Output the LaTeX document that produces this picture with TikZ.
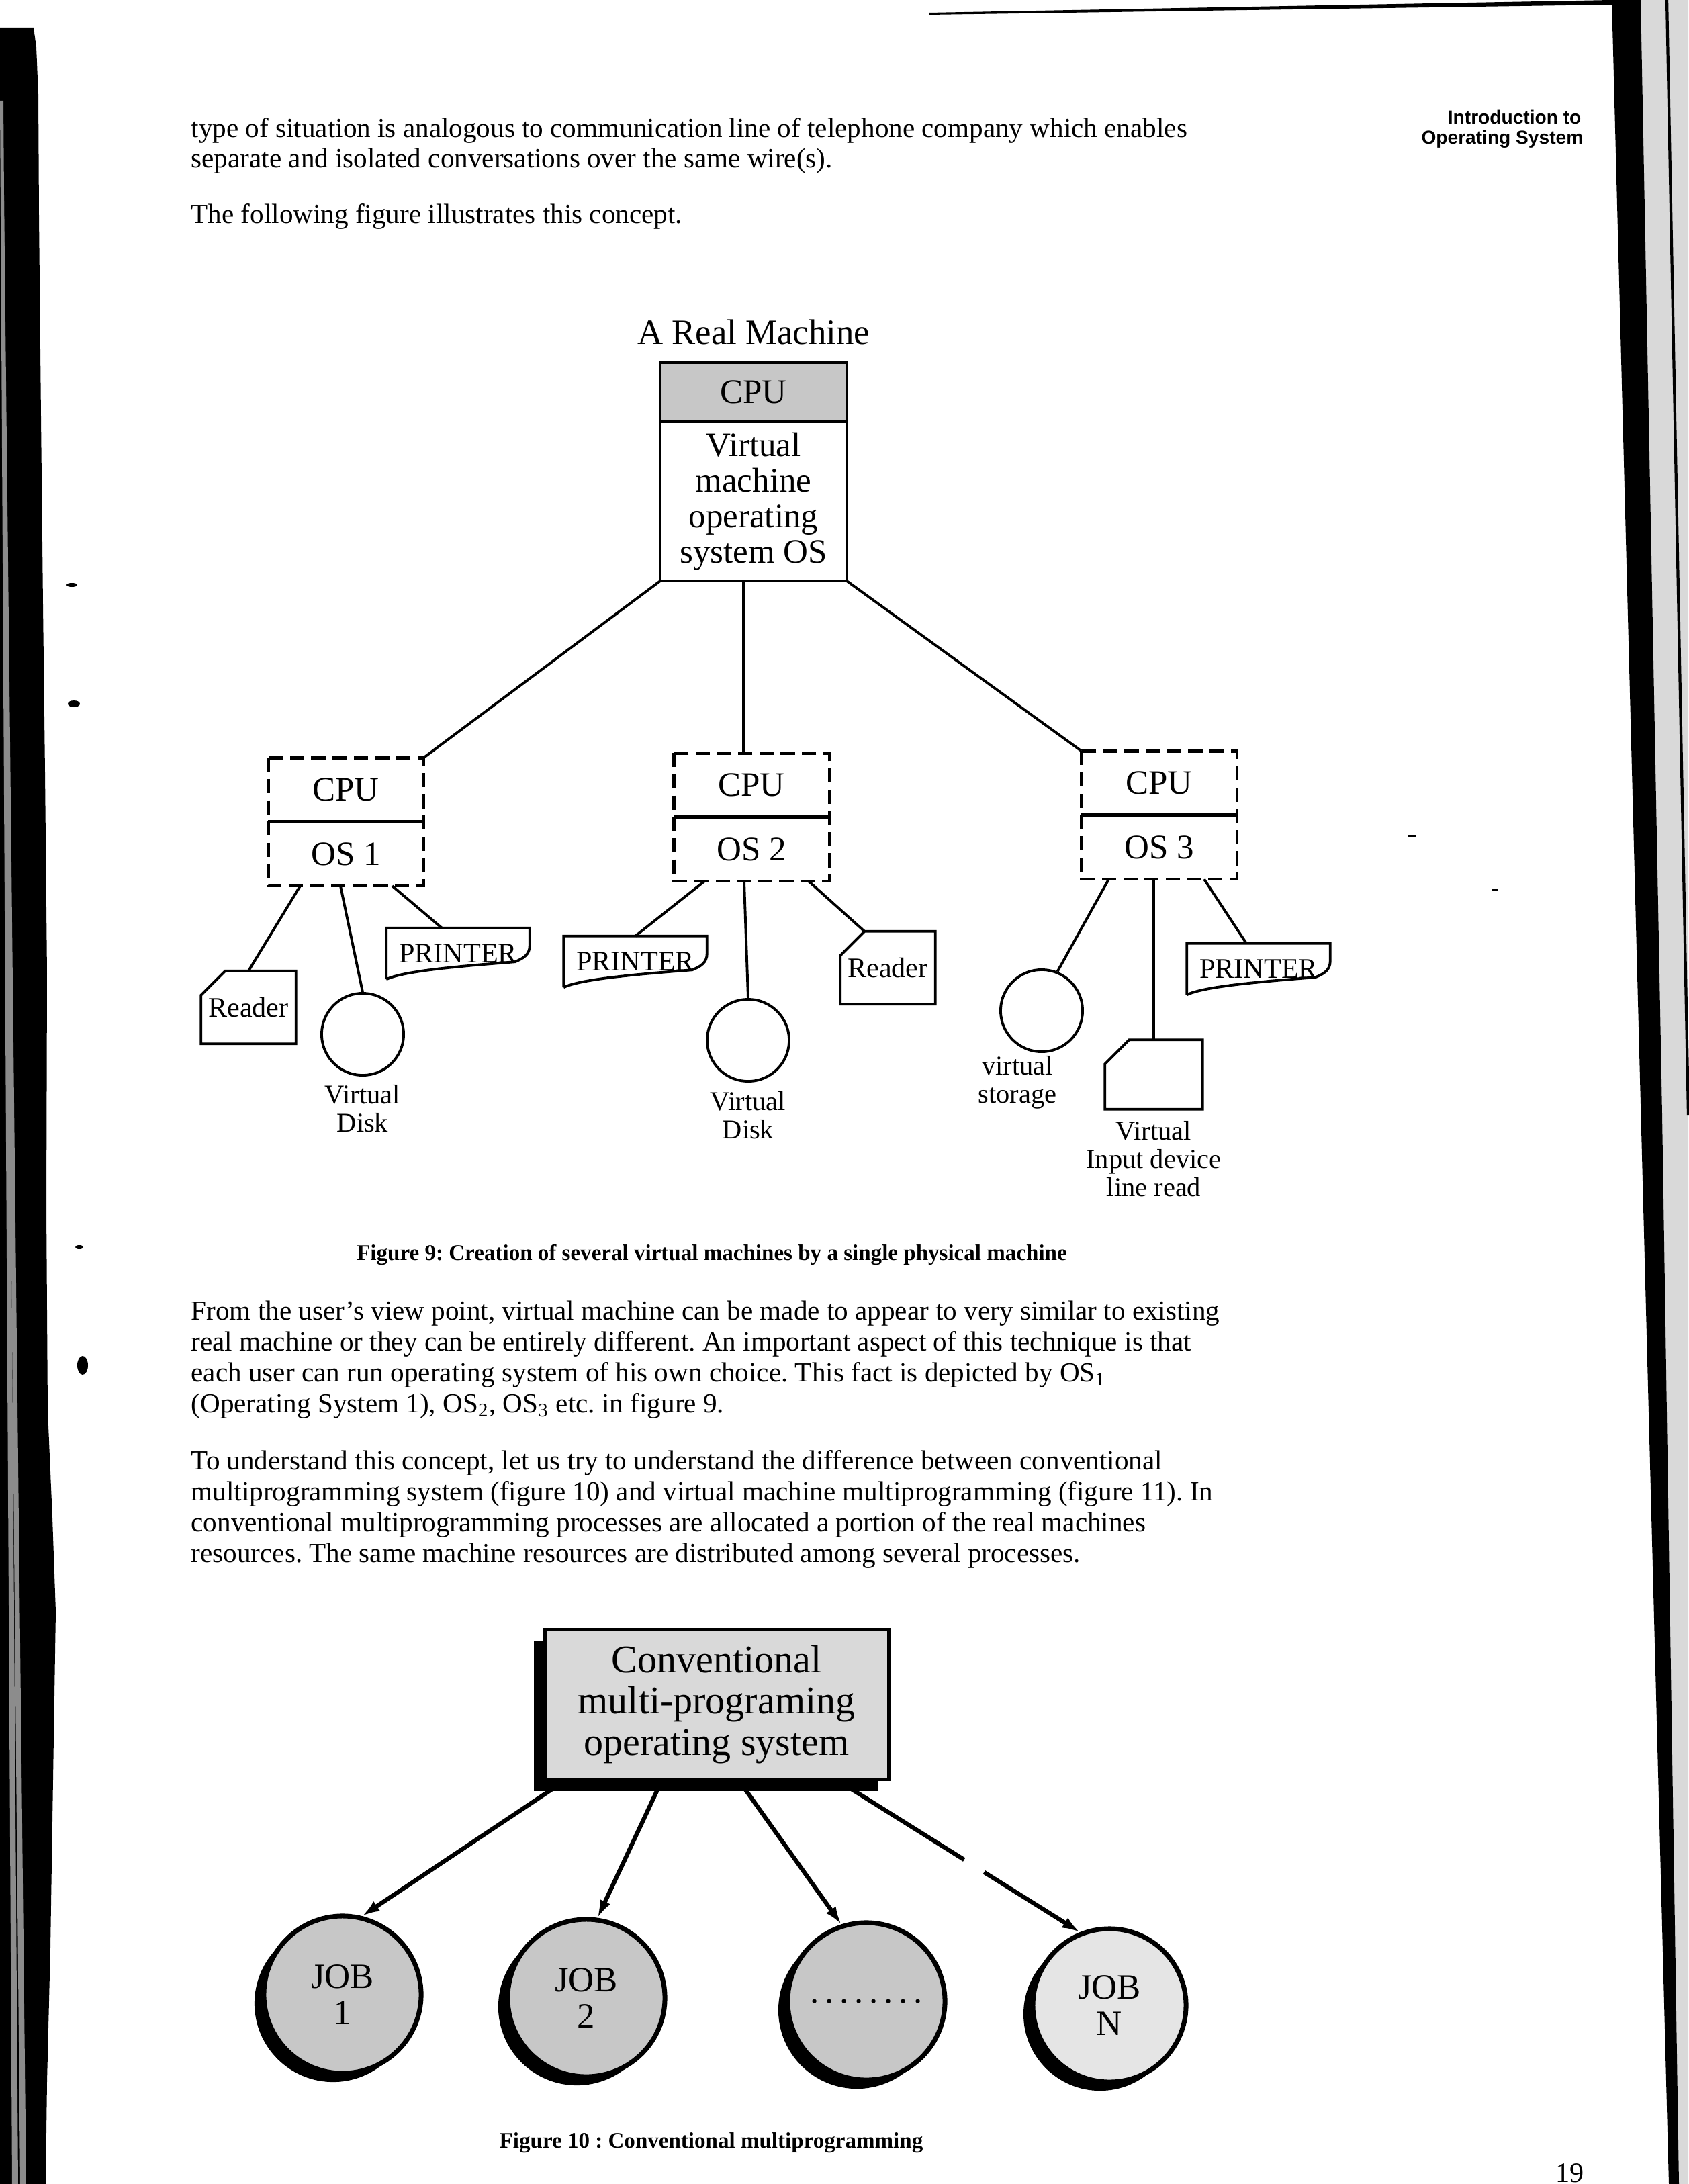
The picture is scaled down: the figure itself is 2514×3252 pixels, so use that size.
\documentclass[tikz,border=0pt]{standalone}
\usepackage{fontspec}
\setmainfont{Liberation Serif}
\setsansfont{Liberation Sans}
\usetikzlibrary{arrows.meta, positioning, shadows}
\frenchspacing
\colorlet{cpugray}{black!22}
\colorlet{jobgray}{black!22}
\colorlet{scangray}{black!15}
\tikzstyle{bodyline} = [anchor=base west, inner sep=0pt,
    font=\fontsize{11.7}{13}\selectfont]
\tikzstyle{caption} = [anchor=base, inner sep=0pt,
    font=\bfseries\fontsize{9.4}{11}\selectfont]
\tikzstyle{header} = [anchor=base east, inner sep=0pt,
    font=\sffamily\bfseries\fontsize{8}{9}\selectfont]
\tikzstyle{mainpart} = [draw, line width=1.3pt, minimum width=2.78cm,
    inner sep=0pt, outer sep=0pt, align=center,
    font=\fontsize{14.5}{15.1}\selectfont]
\tikzstyle{vmpart} = [minimum width=2.3cm, minimum height=0.94cm,
    inner sep=0pt, font=\fontsize{14.5}{15}\selectfont]
\tikzstyle{vmbox} = [line width=1.3pt, dash pattern=on 6pt off 3pt]
\tikzstyle{divider} = [line width=1.4pt]
\tikzstyle{device} = [inner sep=0pt, font=\fontsize{12}{12}\selectfont]
\tikzstyle{disk} = [draw, circle, line width=1.1pt, minimum size=1.22cm,
    inner sep=0pt]
\tikzstyle{devlabel} = [align=center, inner sep=0pt,
    font=\fontsize{11.5}{12}\selectfont]
\tikzstyle{devline} = [line width=1.1pt]
\tikzstyle{link} = [line width=1.1pt]
\tikzstyle{convbox} = [draw, line width=1.5pt, fill=scangray,
    minimum width=5.12cm, minimum height=2.23cm, inner sep=0pt,
    align=center, font=\fontsize{16.5}{17.5}\selectfont,
    drop shadow={shadow xshift=-0.16cm, shadow yshift=-0.17cm,
    fill=black, opacity=1}]
\tikzstyle{job} = [draw, circle, line width=2pt, fill=jobgray,
    minimum size=2.34cm, inner sep=0pt, align=center,
    font=\fontsize{15}{15.5}\selectfont,
    drop shadow={shadow xshift=-0.14cm, shadow yshift=-0.13cm,
    fill=black, opacity=1}]
\tikzstyle{arrow} = [line width=1.8pt, -{Latex[length=7.5pt,width=5pt]}]

% card reader outline with the cut corner
\newcommand{\cardoutline}[1]{%
  \draw[devline] ([yshift=-0.36cm]#1.north west)
    -- ([xshift=0.36cm]#1.north west) -- (#1.north east)
    -- (#1.south east) -- (#1.south west) -- cycle;}
% printer outline with the torn paper edge
\newcommand{\printeroutline}[1]{%
  \draw[devline] (#1.south west) -- (#1.north west) -- (#1.north east)
    -- ([yshift=-0.26cm]#1.north east)
    .. controls +(0cm,-0.14cm) and +(0.12cm,0.05cm)
    .. ([xshift=-0.22cm,yshift=0.26cm]#1.south east)
    .. controls +(-0.9cm,-0.07cm) and +(0.25cm,0.12cm)
    .. (#1.south west);}

\begin{document}
\begin{tikzpicture}[x=0.01cm, y=-0.01cm, >=Latex]
  \useasboundingbox (0,0) rectangle (2514,3252);
  \fill[white] (0,0) rectangle (2514,3252);

  % Scanned page edges
  \fill[black] (0,41) -- (50,41) -- (54,70) -- (57,140) -- (58,320)
    -- (61,620) -- (64,900) -- (67,1150) -- (70,1450) -- (69,1800)
    -- (71,2100) -- (78,2260) -- (83,2400) -- (79,2650)
    -- (75,2900) -- (70,3100) -- (68,3252) -- (0,3252) -- cycle;
  \fill[black!45] (0,150) -- (5,150) -- (27,3252) -- (18,3252) -- cycle;
  \fill[black!45] (2,300) -- (6,300) -- (39,3252) -- (30,3252) -- cycle;
  \fill[black] (107,871) ellipse (8 and 3);
  \fill[black] (110,1048) ellipse (9 and 5);
  \fill[black] (118,1857) ellipse (6 and 3);
  \fill[black] (123,2033) ellipse (8 and 14);
  \fill[scangray] (2443,0) -- (2514,0) -- (2514,3252) -- (2500,3252)
    -- (2475,1660) -- cycle;
  \fill[black] (2400,0) -- (2443,0) -- (2475,1660) -- (2500,3252)
    -- (2485,3252) -- cycle;
  \draw[line width=1.2pt] (2482,0) -- (2514,1660);
  \fill[black] (1383,19) -- (2400,0) -- (2400,7) -- (1383,22) -- cycle;
  \fill[black] (2096,1244) rectangle (2108,1247);
  \fill[black] (2222,1324) rectangle (2230,1327);

  % Running head and text
  \node[header] (head1) at (2355,185) {Introduction to};
  \node[header] (head2) at (2358,215) {Operating System};
  \node[bodyline] (intro1) at (284,205) {type of situation is analogous to communication line of telephone company which enables};
  \node[bodyline] (intro2) at (284,250) {separate and isolated conversations over the same wire(s).};
  \node[bodyline] (intro3) at (284,333) {The following figure illustrates this concept.};

  % Figure 9: the real machine
  \node[font=\fontsize{15}{16}\selectfont, inner sep=0pt] (title) at (1122,494) {A Real Machine};
  \node[mainpart, fill=cpugray, minimum height=0.88cm] (realcpu) at (1122,584) {CPU};
  \node[mainpart, minimum height=2.37cm, below=0cm of realcpu] (vmos)
    {Virtual\\machine\\operating\\system OS};

  % Virtual machines
  \foreach \i/\x/\y in {1/515/1176, 2/1119/1169, 3/1726/1166} {
    \node[vmpart] (cpu\i) at (\x,\y) {CPU};
    \node[vmpart, below=0cm of cpu\i] (os\i) {OS \i};
    \draw[vmbox] (cpu\i.north west) rectangle (os\i.south east);
    \draw[divider] (cpu\i.south west) -- (cpu\i.south east);
  }
  \draw[link] (vmos.south west) -- (cpu1.north east);
  \draw[link] ([xshift=-0.15cm]vmos.south) -- ([xshift=-0.12cm]cpu2.north);
  \draw[link] (vmos.south east) -- (cpu3.north west);

  % Devices of the first machine
  \node[device, minimum width=1.4cm, minimum height=1.07cm] (rd1) at (370,1500) {Reader};
  \node[disk] (dk1) at (540,1540) {};
  \node[device, minimum width=2.12cm, minimum height=0.75cm] (pr1) at (682,1420) {PRINTER};
  \node[devlabel, below=0.12cm of dk1] (dk1lab) {Virtual\\Disk};
  \cardoutline{rd1}
  \printeroutline{pr1}
  \draw[link] ([xshift=-0.68cm]os1.south) -- (rd1.north);
  \draw[link] ([xshift=-0.08cm]os1.south) -- (dk1.north);
  \draw[link] ([xshift=0.69cm]os1.south) -- ([xshift=-0.24cm]pr1.north);

  % Devices of the second machine
  \node[device, minimum width=2.12cm, minimum height=0.75cm] (pr2) at (946,1432) {PRINTER};
  \node[disk] (dk2) at (1114,1549) {};
  \node[device, minimum width=1.4cm, minimum height=1.07cm] (rd2) at (1322,1441) {Reader};
  \node[devlabel, below=0.13cm of dk2] (dk2lab) {Virtual\\Disk};
  \printeroutline{pr2}
  \cardoutline{rd2}
  \draw[link] ([xshift=-0.70cm]os2.south) -- (pr2.north);
  \draw[link] ([xshift=-0.11cm]os2.south) -- (dk2.north);
  \draw[link] ([xshift=0.85cm]os2.south) -- ([xshift=0.36cm]rd2.north west);

  % Devices of the third machine
  \node[disk] (st3) at (1551,1505) {};
  \node[device, minimum width=1.44cm, minimum height=1.02cm] (inp) at (1718,1600) {};
  \node[device, minimum width=2.12cm, minimum height=0.75cm] (pr3) at (1874,1443) {PRINTER};
  \node[devlabel] (st3lab) at (1515,1612) {virtual\\storage};
  \node[devlabel, below=0.17cm of inp] (inplab) {Virtual\\Input device\\line read};
  \cardoutline{inp}
  \printeroutline{pr3}
  \draw[link] ([xshift=-0.75cm]os3.south) -- (st3.68);
  \draw[link] ([xshift=-0.08cm]os3.south) -- (inp.north);
  \draw[link] ([xshift=0.67cm]os3.south) -- ([xshift=-0.18cm]pr3.north);

  \node[caption] (cap9) at (1060,1876) {Figure 9: Creation of several virtual machines by a single physical machine};

  % Text between the figures
  \node[bodyline] (para1) at (284,1965) {From the user’s view point, virtual machine can be made to appear to very similar to existing};
  \node[bodyline] (para2) at (284,2011) {real machine or they can be entirely different. An important aspect of this technique is that};
  \node[bodyline] (para3) at (284,2057) {each user can run operating system of his own choice. This fact is depicted by OS\textsubscript{1}};
  \node[bodyline] (para4) at (284,2103) {(Operating System 1), OS\textsubscript{2}, OS\textsubscript{3} etc. in figure 9.};
  \node[bodyline] (conc1) at (284,2188) {To understand this concept, let us try to understand the difference between conventional};
  \node[bodyline] (conc2) at (284,2234) {multiprogramming system (figure 10) and virtual machine multiprogramming (figure 11). In};
  \node[bodyline] (conc3) at (284,2280) {conventional multiprogramming processes are allocated a portion of the real machines};
  \node[bodyline] (conc4) at (284,2326) {resources. The same machine resources are distributed among several processes.};

  % Figure 10: conventional multiprogramming
  \node[convbox] (conv) at (1067,2538) {Conventional\\multi-programing\\operating system};
  \node[job] (job1) at (510,2970) {JOB\\1};
  \node[job] (job2) at (873,2975) {JOB\\2};
  \node[job] (job3) at (1290,2980) {.\,.\,.\,.\,.\,.\,.\,.};
  \node[job, fill=black!10, minimum size=2.28cm] (jobn) at (1652,2986) {JOB\\N};
  \draw[arrow] ([xshift=-2.27cm]conv.south) -- (job1.76);
  \draw[arrow] ([xshift=-0.82cm]conv.south) -- (job2.82);
  \draw[arrow] ([xshift=0.34cm]conv.south) -- (job3.108);
  \draw[arrow, dash pattern=on 2.2cm off 0.35cm on 10cm] ([xshift=1.82cm]conv.south) -- (jobn.112);

  \node[caption] (cap10) at (1059,3198) {Figure 10 : Conventional multiprogramming};
  \node[bodyline, font=\fontsize{12}{13}\selectfont] (pageno) at (2316,3249) {19};
\end{tikzpicture}
\end{document}
